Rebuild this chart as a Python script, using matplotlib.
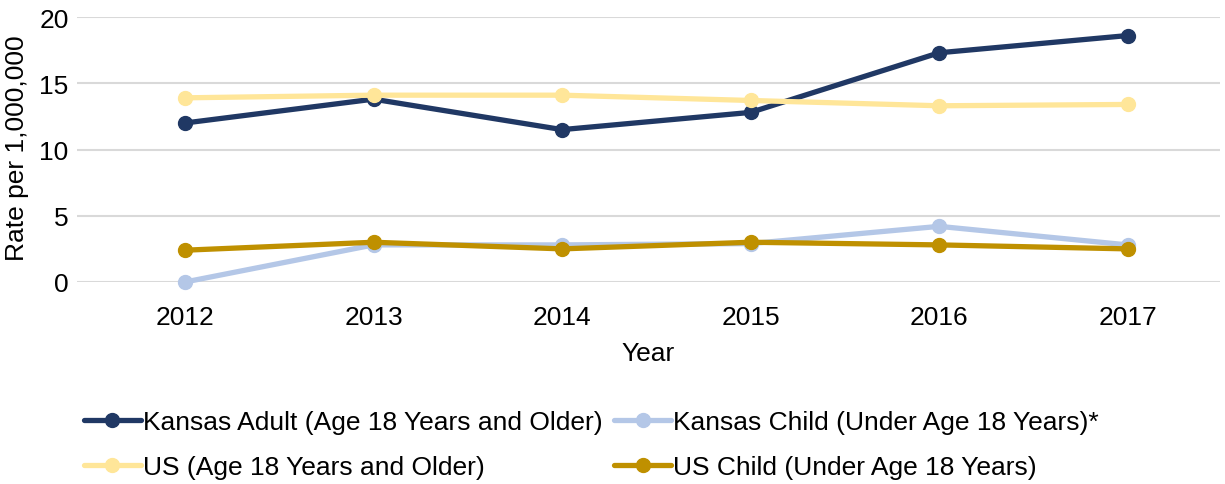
import matplotlib.pyplot as plt
import numpy as np

plt.rcParams['font.family'] = ['Liberation Sans', 'DejaVu Sans']

# Данные графика
years = ['2012', '2013', '2014', '2015', '2016', '2017']
kansas_adult = [12.0, 13.8, 11.5, 12.8, 17.3, 18.6]
kansas_child = [0.0, 2.8, 2.8, 2.9, 4.2, 2.8]
us_adult = [13.9, 14.1, 14.1, 13.7, 13.3, 13.4]
us_child = [2.4, 3.0, 2.5, 3.0, 2.8, 2.5]

series_labels = [
    'Kansas Adult (Age 18 Years and Older)',
    'Kansas Child (Under Age 18 Years)*',
    'US (Age 18 Years and Older)',
    'US Child (Under Age 18 Years)',
]
colors = ['#203864', '#B4C7E7', '#FFE699', '#BF9000']
FS = 19

fig = plt.figure(figsize=(12.25, 4.85), dpi=100)
ax = fig.add_axes([77 / 1225, 1 - 283 / 485, (1220 - 77) / 1225, (283 - 18) / 485])

x = np.arange(len(years))
handles = []
for values, label, color in zip([kansas_adult, kansas_child, us_adult, us_child], series_labels, colors):
    h, = ax.plot(x, values, color=color, lw=3.8, marker='o', markersize=10,
                 label=label, solid_capstyle='round', clip_on=False)
    handles.append(h)

ax.set_ylim(0, 20)
ax.set_yticks([0, 5, 10, 15, 20])
ax.set_xlim(-0.573, 5.49)
ax.set_xticks(x)
ax.set_xticklabels(years)
ax.tick_params(axis='both', length=0, labelsize=FS)
ax.tick_params(axis='x', pad=16.5)
ax.tick_params(axis='y', pad=6)
ax.grid(axis='y', color='#D9D9D9', lw=1.5)
ax.set_axisbelow(True)
for s in ax.spines.values():
    s.set_visible(False)

ax.set_xlabel('Year', fontsize=FS, labelpad=9)
fig.text(17 / 1225, 1 - 148 / 485, 'Rate per 1,000,000', rotation=90,
         fontsize=FS, ha='center', va='center')

# порядок для заполнения по столбцам: строка 1 — Kansas, строка 2 — US
order = [0, 2, 1, 3]
fig.legend([handles[i] for i in order], [series_labels[i] for i in order],
           loc='upper left', bbox_to_anchor=(84 / 1225, 1 - 411 / 485),
           ncol=2, frameon=False, fontsize=FS, borderpad=0, borderaxespad=0,
           handlelength=2.15, handletextpad=0.08, columnspacing=0.45,
           labelspacing=0.8)

fig.savefig('out.png', dpi=100)
